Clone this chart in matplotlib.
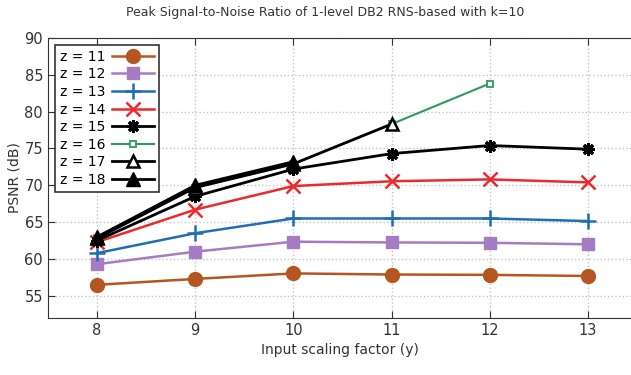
import matplotlib.pyplot as plt

# escala de entrada (y)
escalas = [8, 9, 10, 11, 12, 13]

psnr_z11 = [56.5, 57.3, 58.05, 57.9, 57.85, 57.7]
psnr_z12 = [59.3, 61.0, 62.35, 62.25, 62.2, 62.0]
psnr_z13 = [60.8, 63.5, 65.5, 65.5, 65.5, 65.15]
psnr_z14 = [62.3, 66.7, 69.9, 70.55, 70.8, 70.4]
psnr_z15 = [62.5, 68.5, 72.2, 74.3, 75.4, 74.9]
psnr_z16 = [62.8, 69.7, 72.9, 78.3, 83.8]
psnr_z17 = [62.8, 69.7, 72.9, 78.3]
psnr_z18 = [63.0, 70.0, 73.2]

fig = plt.figure(figsize=(6.31, 3.75), dpi=100)
ax = fig.add_axes([0.076, 0.152, 0.924, 0.747])

ax.plot(escalas, psnr_z11, color='#b4561f', marker='o', markersize=10, lw=1.8, label='z = 11')
ax.plot(escalas, psnr_z12, color='#a57cc4', marker='s', markersize=9, lw=1.8, label='z = 12')
ax.plot(escalas, psnr_z13, color='#1f6db5', marker='+', markersize=11, mew=1.8, lw=1.8, label='z = 13')
ax.plot(escalas, psnr_z14, color='#ea2a2e', marker='x', markersize=10, mew=1.8, lw=1.8, label='z = 14')
ax.plot(escalas, psnr_z15, color='black', marker=(8, 2, 0), markersize=9, mew=2.2, lw=2, label='z = 15')
ax.plot(escalas[:5], psnr_z16, color='#2f9a5e', marker='s', markersize=5, mfc='white', mew=1.3, lw=1.5, label='z = 16')
ax.plot(escalas[:4], psnr_z17, color='black', marker='^', markersize=9, mfc='white', mew=1.8, lw=2, label='z = 17')
ax.plot(escalas[:3], psnr_z18, color='black', marker='^', markersize=10, lw=2, label='z = 18')

ax.set_xlim(7.5, 13.44)
ax.set_ylim(52, 90)
ax.set_xticks(escalas)
ax.set_yticks(range(55, 91, 5))
ax.tick_params(direction='in', top=True, labelsize=10.5, colors='#333333', length=5)
ax.grid(True, linestyle=':', color='#c4c4c4', lw=1)
ax.spines['right'].set_visible(False)
for s in ['left', 'bottom', 'top']:
    ax.spines[s].set_color('#333333')

ax.set_xlabel('Input scaling factor (y)', fontsize=10, color='#333333')
ax.set_ylabel('PSNR (dB)', fontsize=10, color='#333333', labelpad=2)
fig.suptitle('Peak Signal-to-Noise Ratio of 1-level DB2 RNS-based with k=10', fontsize=9, x=0.515, y=0.985, color='#333333')

leg = ax.legend(loc='upper left', bbox_to_anchor=(0.0, 1.0), fontsize=10, handlelength=3,
                labelspacing=0.26, borderpad=0.35, handletextpad=0.5, markerfirst=False,
                frameon=True, fancybox=False, edgecolor='#333333', framealpha=1)
leg.get_frame().set_linewidth(1.2)

plt.savefig('out.png', dpi=100)
